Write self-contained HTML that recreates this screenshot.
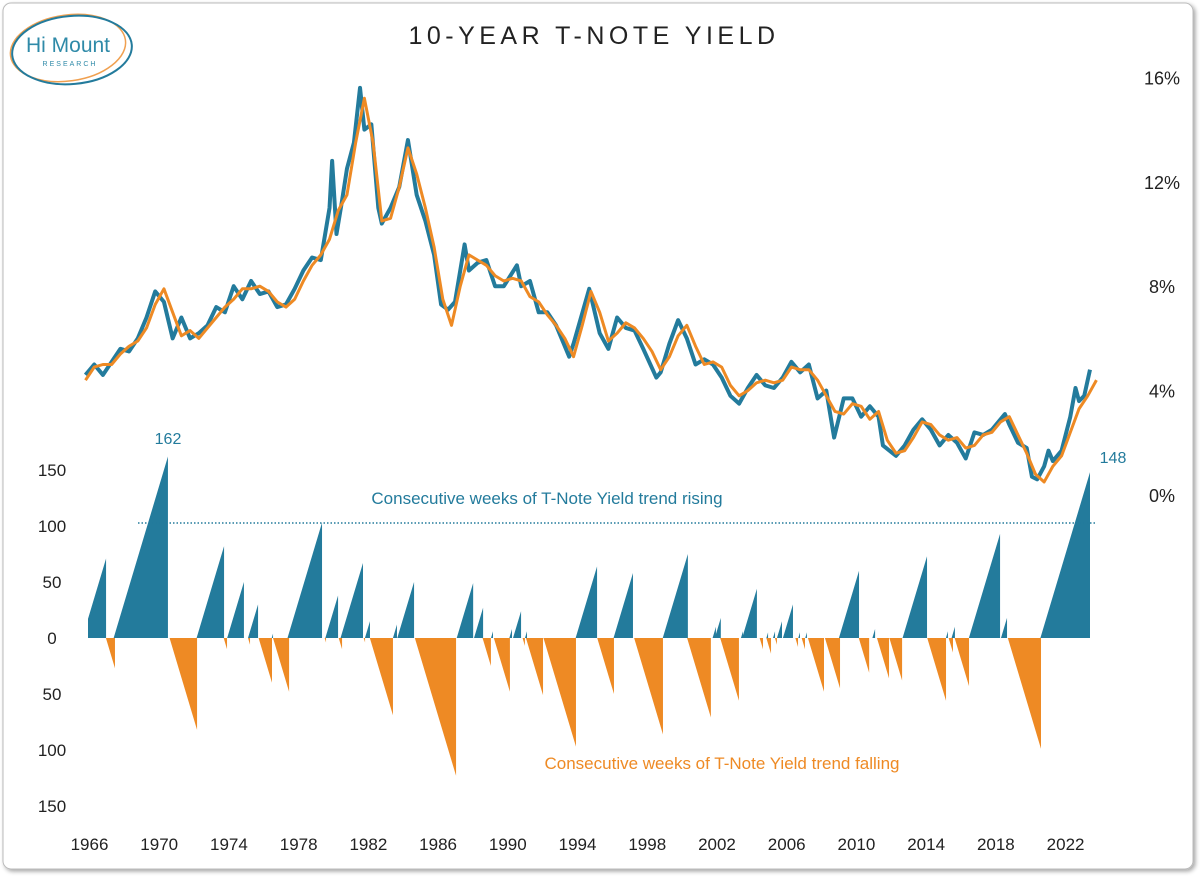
<!DOCTYPE html>
<html><head><meta charset="utf-8"><style>
html,body{margin:0;padding:0;background:#fff;}
body{width:1200px;height:876px;overflow:hidden;font-family:"Liberation Sans",sans-serif;}
svg text{font-family:"Liberation Sans",sans-serif;}
</style></head><body>
<svg id="chart" width="1200" height="876" viewBox="0 0 1200 876">
<defs><filter id="sh" x="-5%" y="-5%" width="110%" height="110%"><feDropShadow dx="2" dy="2" stdDeviation="2" flood-color="#000" flood-opacity="0.35"/></filter>
<clipPath id="plotclip"><rect x="88" y="60" width="1010" height="780"/></clipPath></defs>
<rect x="3" y="3" width="1190" height="866" rx="8" fill="#fff" stroke="#bbb" stroke-width="1" filter="url(#sh)"/>
<g>
<ellipse cx="68" cy="48" rx="58" ry="33" fill="none" stroke="#f0a050" stroke-width="1.5" transform="rotate(-8 68 48)"/>
<ellipse cx="72" cy="50" rx="60" ry="34" fill="none" stroke="#237b9c" stroke-width="2" transform="rotate(-5 72 50)"/>
<text x="68" y="52" font-size="21" fill="#2f8aa8" text-anchor="middle" font-family="Liberation Serif,serif">Hi Mount</text>
<text x="70" y="66" font-size="7" fill="#2f8aa8" text-anchor="middle" letter-spacing="2">RESEARCH</text>
</g>
<text x="594" y="44" font-size="25" text-anchor="middle" letter-spacing="4.5" fill="#222">10-YEAR T-NOTE YIELD</text>
<g id="axes"></g>
<g id="bars" clip-path="url(#plotclip)"></g>
<g id="lines"></g>
<line x1="138" y1="523" x2="1097" y2="523" stroke="#237b9c" stroke-width="1.5" stroke-dasharray="1.5,2"/>
<text x="547" y="504" font-size="17" fill="#237b9c" text-anchor="middle">Consecutive weeks of T-Note Yield trend rising</text>
<text x="722" y="769" font-size="17" fill="#ee8a24" text-anchor="middle">Consecutive weeks of T-Note Yield trend falling</text>
<text x="168" y="444" font-size="16" fill="#237b9c" text-anchor="middle">162</text>
<text x="1113" y="463" font-size="16" fill="#237b9c" text-anchor="middle">148</text>
</svg>
<script>
const xTickYears=[1966,1970,1974,1978,1982,1986,1990,1994,1998,2002,2006,2010,2014,2018,2022];
const yieldTicks=[16,12,8,4,0];
const weekTicks=[150,100,50,0,-50,-100,-150];
const runEndYears=[1967.18,1967.69,1970.73,1972.40,1973.95,1974.12,1975.09,1975.44,1975.90,1976.70,1976.76,1977.68,1979.57,1979.80,1980.49,1980.72,1981.92,1982.04,1982.32,1983.64,1983.87,1984.85,1987.26,1988.24,1988.81,1989.26,1989.38,1990.35,1990.47,1990.99,1991.21,1991.33,1992.25,1994.14,1995.35,1996.32,1997.41,1999.13,2000.56,2001.88,2002.17,2002.45,2003.49,2003.72,2004.52,2004.87,2005.16,2005.33,2005.56,2005.67,2005.96,2006.59,2006.88,2006.99,2007.28,2007.39,2008.37,2009.29,2010.38,2010.96,2011.30,2012.10,2012.85,2014.28,2015.37,2015.48,2015.77,2015.88,2016.69,2018.47,2018.87,2020.82,2023.63];
const runWeeks=[71,-27,162,-82,82,-10,50,-6,30,-40,4,-48,103,-4,38,-10,67,-4,15,-69,12,50,-123,49,27,-25,6,-48,8,24,-7,6,-51,-97,64,-50,58,-86,75,-71,10,18,-56,6,44,-10,5,-14,6,-6,15,30,-8,5,-10,5,-48,-45,60,-31,8,-36,-38,73,-56,6,-13,10,-43,93,18,-99,148];
const blueYears=[1966,1966.5,1967,1967.5,1968,1968.5,1969,1969.5,1970,1970.5,1971,1971.5,1972,1972.5,1973,1973.5,1974,1974.5,1975,1975.5,1976,1976.5,1977,1977.5,1978,1978.5,1979,1979.5,1980,1980.15,1980.4,1980.7,1981,1981.4,1981.75,1982,1982.4,1982.8,1983,1983.5,1984,1984.5,1985,1985.5,1986,1986.4,1986.8,1987.2,1987.75,1988,1988.5,1989,1989.5,1990,1990.75,1991,1991.5,1992,1992.5,1993,1993.75,1994,1994.9,1995.5,1996,1996.5,1997,1997.5,1998,1998.75,1999,1999.5,2000,2000.5,2001,2001.5,2002,2002.5,2003,2003.5,2004,2004.5,2005,2005.5,2006,2006.5,2007,2007.5,2008,2008.5,2008.95,2009.5,2010,2010.5,2011,2011.5,2011.75,2012.5,2013,2013.5,2014,2014.5,2015,2015.5,2016,2016.5,2017,2017.5,2018,2018.75,2019,2019.5,2020,2020.3,2020.6,2021,2021.25,2021.5,2022,2022.5,2022.8,2023,2023.3,2023.63];
const blueValues=[4.6,5.0,4.6,5.1,5.6,5.5,6.0,6.8,7.8,7.4,6.0,6.8,6.0,6.2,6.5,7.2,7.0,8.0,7.5,8.2,7.7,7.8,7.2,7.3,7.9,8.6,9.1,9.0,11.0,12.8,10.0,11.2,12.5,13.5,15.6,14.0,14.2,11.0,10.4,11.0,11.8,13.6,11.5,10.5,9.2,7.3,7.1,7.4,9.6,8.6,8.9,9.0,8.0,8.0,8.8,8.0,8.2,7.0,7.0,6.5,5.3,5.8,7.9,6.2,5.6,6.8,6.4,6.3,5.6,4.5,4.7,5.8,6.7,6.0,5.0,5.2,5.0,4.5,3.8,3.5,4.1,4.6,4.2,4.1,4.5,5.1,4.7,5.0,3.7,4.0,2.2,3.7,3.7,3.0,3.4,3.0,1.9,1.5,1.9,2.5,2.9,2.5,1.9,2.3,2.0,1.4,2.4,2.3,2.5,3.1,2.7,2.0,1.8,0.7,0.6,1.1,1.7,1.3,1.7,3.0,4.1,3.6,3.8,4.8];
const orangeStart=1966, orangeStep=0.5;
const orangeValues=[4.4,4.9,5.0,5.0,5.4,5.7,5.9,6.4,7.3,7.9,7.0,6.1,6.3,6.0,6.4,6.8,7.2,7.5,7.9,7.9,8.0,7.8,7.4,7.2,7.5,8.2,8.8,9.2,9.8,10.9,11.5,13.5,15.2,13.5,10.5,10.6,11.8,13.3,12.3,11.0,9.5,7.5,6.5,8.0,9.2,9.0,8.8,8.4,8.2,8.3,8.2,7.6,7.4,6.9,6.5,6.0,5.3,6.5,7.8,7.0,5.9,6.2,6.6,6.4,6.0,5.5,4.8,5.3,6.1,6.5,5.7,5.0,5.1,4.9,4.2,3.8,4.0,4.3,4.4,4.3,4.4,4.9,4.8,4.8,4.4,3.8,3.2,3.1,3.5,3.4,2.9,3.2,2.1,1.6,1.7,2.2,2.8,2.7,2.3,2.1,2.2,1.8,1.9,2.3,2.4,2.8,3.0,2.3,1.6,0.8,0.5,1.1,1.5,2.4,3.3,3.8,4.4];

const NS='http://www.w3.org/2000/svg';
const X=yr=>85.5+17.43*(yr-1966);
const YY=v=>495-26.1*v;
const YW=w=>638-1.12*w;
function mk(tag,attrs,parent){const e=document.createElementNS(NS,tag);for(const k in attrs)e.setAttribute(k,attrs[k]);parent.appendChild(e);return e;}
const axes=document.getElementById('axes'),bars=document.getElementById('bars'),lines=document.getElementById('lines');
xTickYears.forEach(y=>{const t=mk('text',{x:X(y)+4,y:850,'font-size':17,'text-anchor':'middle',fill:'#222'},axes);t.textContent=y;

});
yieldTicks.forEach(v=>{const t=mk('text',{x:1162,y:YY(v)+7,'font-size':18,'text-anchor':'middle',fill:'#222'},axes);t.textContent=v+'%';

});
weekTicks.forEach(w=>{const t=mk('text',{x:52,y:YW(w)+6,'font-size':17,'text-anchor':'middle',fill:'#222'},axes);t.textContent=Math.abs(w);

});
runEndYears.forEach((ey,i)=>{const w=runWeeks[i];const sy=ey-Math.abs(w)/52;
const p=mk('polygon',{points:`${X(sy)},${YW(0)} ${X(ey)},${YW(w)} ${X(ey)},${YW(0)}`,fill:w>0?'#237b9c':'#ee8a24'},bars);

});
const bp=mk('polyline',{points:blueYears.map((y,i)=>X(y)+','+YY(blueValues[i])).join(' '),fill:'none',stroke:'#237b9c','stroke-width':4,'stroke-linejoin':'round'},lines);


const op=mk('polyline',{points:orangeValues.map((v,i)=>X(orangeStart+i*orangeStep)+','+YY(v)).join(' '),fill:'none',stroke:'#ee8a24','stroke-width':3,'stroke-linejoin':'round'},lines);


</script>
</body></html>
